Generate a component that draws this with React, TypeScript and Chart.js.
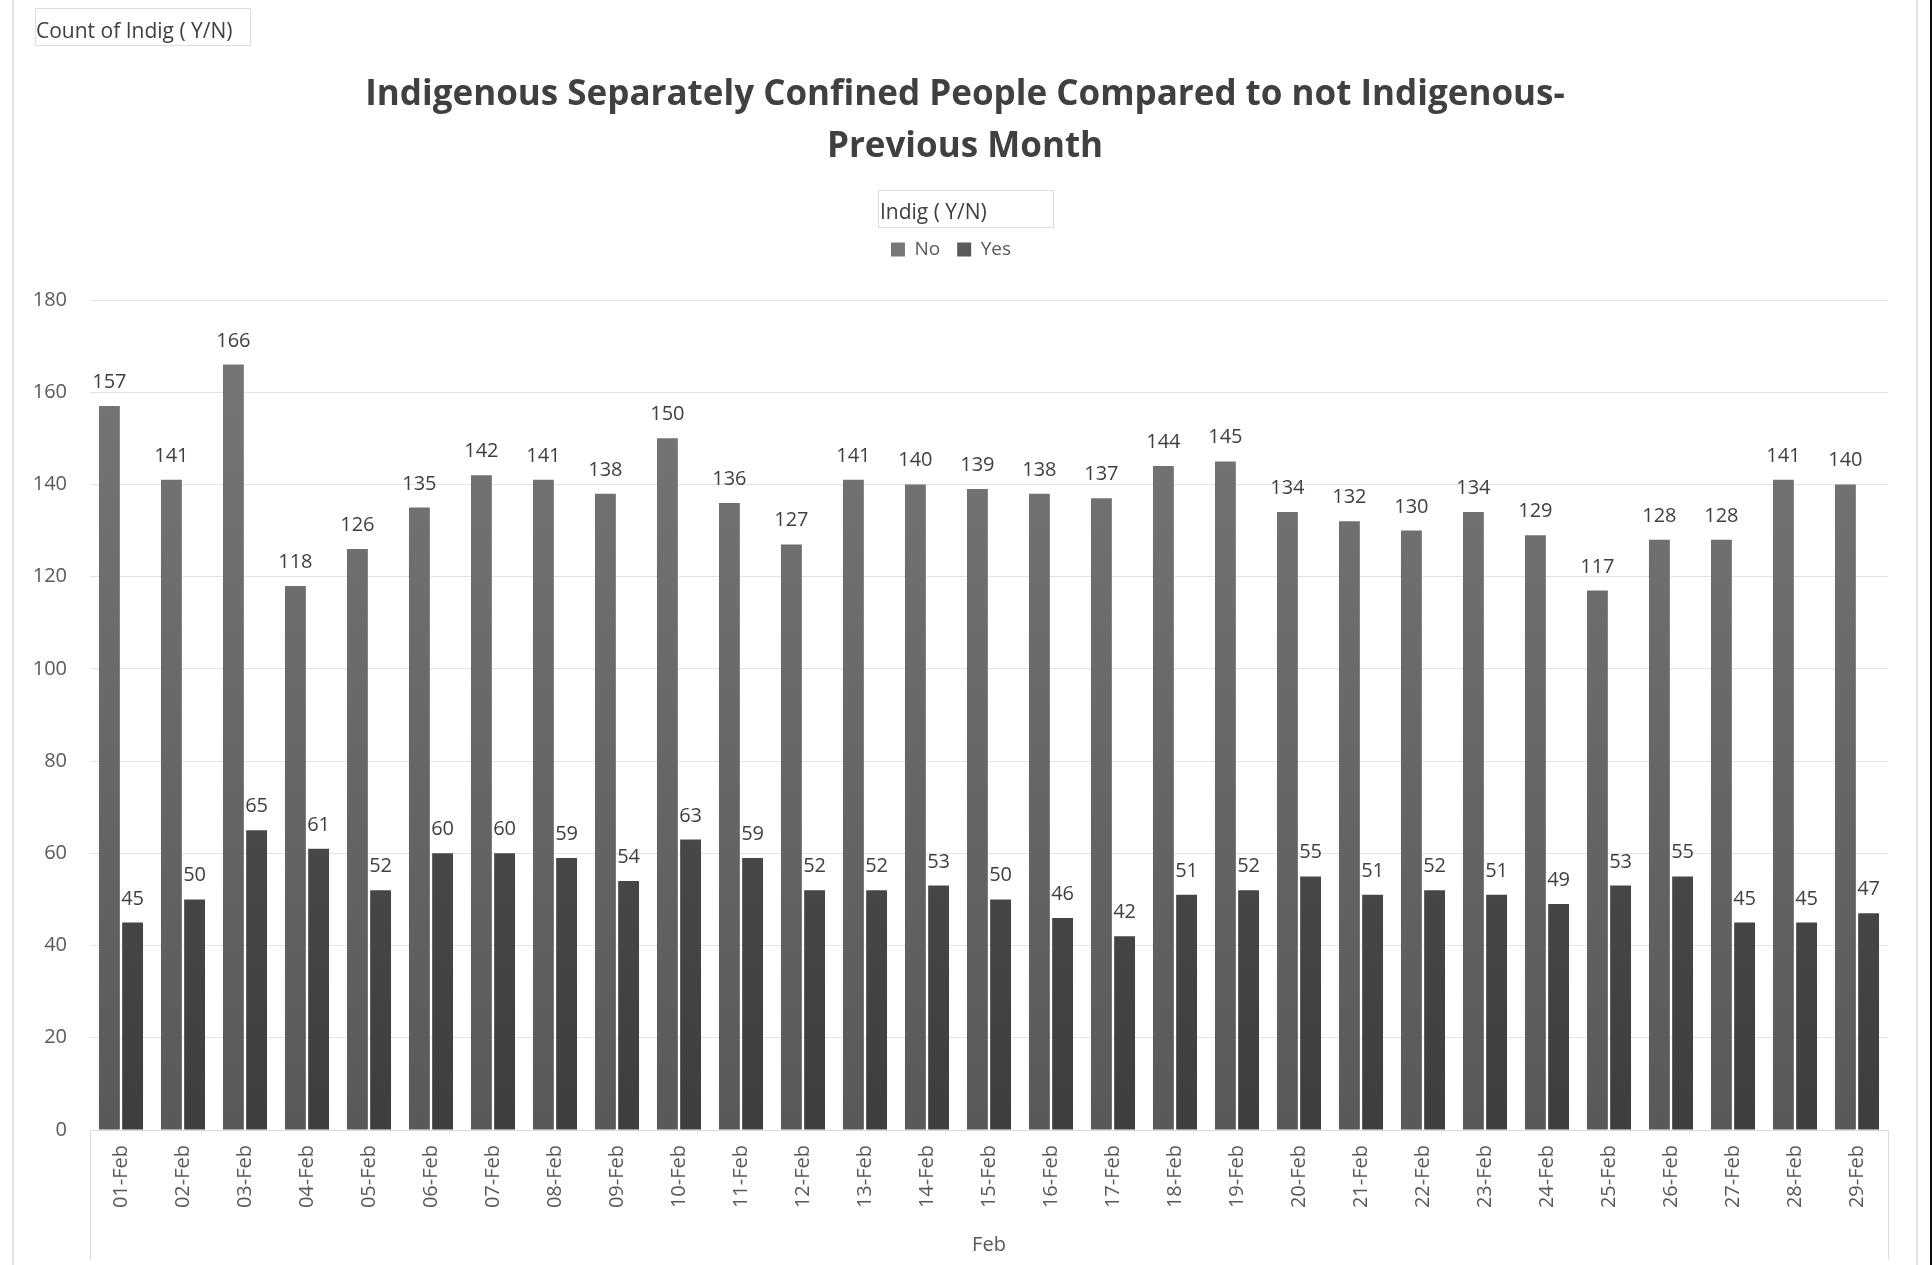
import React, { useEffect, useRef } from 'react';
import { Chart, registerables } from 'chart.js';

Chart.register(...registerables);

const categories = [
  '01-Feb', '02-Feb', '03-Feb', '04-Feb', '05-Feb', '06-Feb', '07-Feb', '08-Feb', '09-Feb', '10-Feb',
  '11-Feb', '12-Feb', '13-Feb', '14-Feb', '15-Feb', '16-Feb', '17-Feb', '18-Feb', '19-Feb', '20-Feb',
  '21-Feb', '22-Feb', '23-Feb', '24-Feb', '25-Feb', '26-Feb', '27-Feb', '28-Feb', '29-Feb',
];
const noValues = [157, 141, 166, 118, 126, 135, 142, 141, 138, 150, 136, 127, 141, 140, 139, 138, 137, 144, 145, 134, 132, 130, 134, 129, 117, 128, 128, 141, 140];
const yesValues = [45, 50, 65, 61, 52, 60, 60, 59, 54, 63, 59, 52, 52, 53, 50, 46, 42, 51, 52, 55, 51, 52, 51, 49, 53, 55, 45, 45, 47];
const seriesNames = ['No', 'Yes'];
const chartTitle = ['Indigenous Separately Confined People Compared to not Indigenous-', 'Previous Month'];
const fieldLabel = 'Count of Indig ( Y/N)';
const legendTitle = 'Indig ( Y/N)';
const axisTitle = 'Feb';
const yMin = 0;
const yMax = 180;
const yStep = 20;

const FONT = "'Open Sans', 'Noto Sans', sans-serif";
const W = 1932;
const H = 1265;

function gradientFill(topColor: string, bottomColor: string) {
  return (ctx: any) => {
    const chart = ctx.chart;
    const area = chart.chartArea;
    if (!area) return bottomColor;
    const g = chart.ctx.createLinearGradient(0, area.top, 0, area.bottom);
    g.addColorStop(0, topColor);
    g.addColorStop(1, bottomColor);
    return g;
  };
}

const layoutTweaks = {
  id: 'layoutTweaks',
  beforeLayout(chart: any) {
    const lg = chart.legend;
    if (lg && !lg._spacerPatched) {
      const orig = lg.fit;
      lg.fit = function () {
        orig.call(this);
        this.height += 31;
      };
      lg._spacerPatched = true;
    }
  },
  afterLayout(chart: any) {
    const tb = chart.titleBlock;
    if (tb) {
      tb.left += 14;
      tb.right += 14;
    }
  },
};

const dataLabels = {
  id: 'dataLabels',
  afterDatasetsDraw(chart: any) {
    const ctx = chart.ctx;
    ctx.save();
    ctx.font = `20px ${FONT}`;
    ctx.fillStyle = '#404040';
    ctx.textAlign = 'center';
    ctx.textBaseline = 'alphabetic';
    chart.data.datasets.forEach((ds: any, di: number) => {
      const meta = chart.getDatasetMeta(di);
      meta.data.forEach((el: any, i: number) => {
        ctx.fillText(String(ds.data[i]), el.x, el.y - 18);
      });
    });
    ctx.restore();
  },
};

const decorations = {
  id: 'decorations',
  afterDraw(chart: any) {
    const ctx = chart.ctx;
    const area = chart.chartArea;
    ctx.save();
    // outer frame
    ctx.strokeStyle = '#e3e3e3';
    ctx.lineWidth = 2;
    ctx.beginPath();
    ctx.moveTo(13, 0);
    ctx.lineTo(13, H);
    ctx.moveTo(1917, 0);
    ctx.lineTo(1917, H);
    ctx.stroke();
    ctx.strokeStyle = '#111111';
    ctx.beginPath();
    ctx.moveTo(1931, 0);
    ctx.lineTo(1931, H);
    ctx.stroke();

    // field button
    ctx.lineWidth = 1;
    ctx.strokeStyle = '#dedede';
    ctx.strokeRect(35.5, 8.5, 215, 37);
    ctx.font = `21px ${FONT}`;
    ctx.fillStyle = '#404040';
    ctx.textAlign = 'left';
    ctx.textBaseline = 'middle';
    ctx.fillText(fieldLabel, 36, 32);

    // legend title box
    const lg = chart.legend;
    if (lg && lg.legendHitBoxes && lg.legendHitBoxes.length) {
      const left = lg.legendHitBoxes[0].left - 13;
      const top = lg.top - 33;
      ctx.strokeRect(Math.round(left) + 0.5, Math.round(top) + 0.5, 175, 37);
      ctx.fillStyle = '#404040';
      ctx.fillText(legendTitle, left + 2, top + 23);
    }

    // category group lines
    ctx.strokeStyle = '#dcdcdc';
    ctx.lineWidth = 1;
    ctx.beginPath();
    ctx.moveTo(Math.round(area.left) + 0.5, area.bottom);
    ctx.lineTo(Math.round(area.left) + 0.5, 1260);
    ctx.moveTo(Math.round(area.right) + 0.5, area.bottom);
    ctx.lineTo(Math.round(area.right) + 0.5, 1260);
    ctx.stroke();
    ctx.restore();
  },
};

export default function App() {
  const canvasRef = useRef<HTMLCanvasElement | null>(null);

  useEffect(() => {
    if (!canvasRef.current) return;
    const chart = new Chart(canvasRef.current, {
      type: 'bar',
      data: {
        labels: categories,
        datasets: [
          {
            label: seriesNames[0],
            data: noValues,
            backgroundColor: gradientFill('#787878', '#595959'),
            borderWidth: 0,
            categoryPercentage: 0.748,
            barPercentage: 0.9,
          },
          {
            label: seriesNames[1],
            data: yesValues,
            backgroundColor: gradientFill('#5a5a5a', '#3e3e3e'),
            borderWidth: 0,
            categoryPercentage: 0.748,
            barPercentage: 0.9,
          },
        ],
      },
      options: {
        responsive: false,
        animation: false,
        devicePixelRatio: 1,
        layout: { padding: { left: 14, right: 44, top: 0, bottom: 0 } },
        plugins: {
          title: {
            display: true,
            text: chartTitle,
            color: '#404040',
            font: { family: FONT, size: 35, weight: 'bold', lineHeight: 52 / 35 },
            padding: { top: 69, bottom: 50 },
          },
          legend: {
            display: true,
            position: 'top',
            labels: {
              boxWidth: 14,
              boxHeight: 14,
              padding: 17,
              color: '#595959',
              font: { family: FONT, size: 19 },
            },
          },
          tooltip: { enabled: false },
        },
        scales: {
          x: {
            grid: { display: false, drawTicks: false },
            border: { display: true, color: '#d9d9d9', width: 1 },
            ticks: {
              autoSkip: false,
              maxRotation: 90,
              minRotation: 90,
              padding: 15,
              color: '#595959',
              font: { family: FONT, size: 20 },
            },
            title: {
              display: true,
              text: axisTitle,
              color: '#595959',
              font: { family: FONT, size: 20 },
              padding: { top: 0, bottom: 8 },
            },
            afterFit: (s: any) => {
              s.height = 135;
            },
          },
          y: {
            min: yMin,
            max: yMax,
            grid: { color: '#e3e3e3', lineWidth: 1, drawTicks: false },
            border: { display: false },
            ticks: {
              stepSize: yStep,
              padding: 23,
              color: '#595959',
              font: { family: FONT, size: 20 },
            },
            afterFit: (s: any) => {
              s.width = 76;
            },
          },
        },
      } as any,
      plugins: [layoutTweaks, dataLabels, decorations],
    });
    return () => chart.destroy();
  }, []);

  return (
    <div style={{ position: 'fixed', left: 0, top: 0, width: W, height: H, background: '#ffffff' }}>
      <canvas ref={canvasRef} width={W} height={H} style={{ display: 'block', width: W, height: H }} />
    </div>
  );
}
